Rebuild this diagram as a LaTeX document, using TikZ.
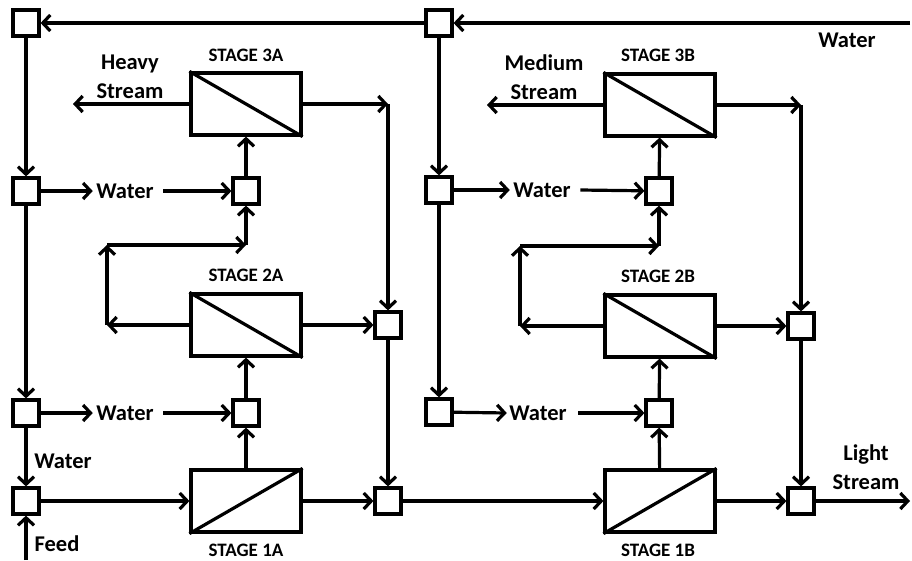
\documentclass[tikz,border=0pt]{standalone}
\usepackage{fontspec}
\setmainfont{Carlito}
\usetikzlibrary{arrows.meta}
\begin{document}
\begin{tikzpicture}[x=1pt,y=-1pt,line width=3.2pt,
  sq/.style={draw, minimum size=26pt, inner sep=0pt},
  stg/.style={draw, minimum width=110pt, minimum height=62pt, inner sep=0pt},
  arr/.style={-{Straight Barb[length=7.5pt,width=16pt]}},
  lbl/.style={font=\bfseries\fontsize{22.5}{29}\selectfont, inner sep=0pt, align=center},
  stl/.style={font=\bfseries\fontsize{19}{20}\selectfont, inner sep=0pt}]
\useasboundingbox (0,0) rectangle (912,560);
% ---- A side nodes
\node[sq] (tl) at (26,23) {};
\node[sq] (tm) at (439,23) {};
\node[sq] (a1) at (26,191) {};
\node[sq] (a2) at (26,413) {};
\node[sq] (fm) at (26,501) {};
\node[sq] (m3a) at (246,191) {};
\node[sq] (m2a) at (246,413) {};
\node[sq] (ca1) at (388,325) {};
\node[sq] (ca2) at (388,501) {};
\node[stg] (s3a) at (246,104) {};
\node[stg] (s2a) at (246,325) {};
\node[stg] (s1a) at (246,501) {};
\draw (s3a.north west) -- (s3a.south east);
\draw (s2a.north west) -- (s2a.south east);
\draw (s1a.south west) -- (s1a.north east);
% ---- B side nodes
\node[sq] (b1) at (439,190) {};
\node[sq] (b2) at (439,412) {};
\node[sq] (m3b) at (659,191) {};
\node[sq] (m2b) at (659,413) {};
\node[sq] (cb1) at (801,326) {};
\node[sq] (cb2) at (801,501) {};
\node[stg] (s3b) at (660,105) {};
\node[stg] (s2b) at (660,326) {};
\node[stg] (s1b) at (660,501) {};
\draw (s3b.north west) -- (s3b.south east);
\draw (s2b.north west) -- (s2b.south east);
\draw (s1b.south west) -- (s1b.north east);
% ---- labels
\node[stl] (l3a) at (246,55) {STAGE 3A};
\node[stl] (l2a) at (246,275) {STAGE 2A};
\node[stl, anchor=base] (l1a) at (246,556) {STAGE 1A};
\node[stl] (l3b) at (658,55) {STAGE 3B};
\node[stl] (l2b) at (658,276) {STAGE 2B};
\node[stl, anchor=base] (l1b) at (658,556) {STAGE 1B};
\node[lbl] (heavy) at (130,77) {Heavy\\Stream};
\node[lbl] (medium) at (544,77) {Medium\\Stream};
\node[lbl] (light) at (866,467) {Light\\Stream};
\node[lbl] (wtop) at (847,40) {Water};
\node[lbl] (wfeed) at (63,461) {Water};
\node[lbl] (feedl) at (57,544) {Feed};
\node[lbl] (wa1) at (125,191) {Water};
\node[lbl] (wa2) at (125,413) {Water};
\node[lbl] (wb1) at (542,190) {Water};
\node[lbl] (wb2) at (538,413) {Water};
% ---- free ends
\coordinate (win) at (910,23);
\coordinate (feed) at (26,560);
\coordinate (hs) at (73,104);
\coordinate (ms) at (487,105);
\coordinate (lout) at (910,501);
\coordinate (ta) at (388,104);
\coordinate (tb) at (801,105);
\coordinate (ra) at (107,325);
\coordinate (rb) at (107,245);
\coordinate (rc) at (246,245);
\coordinate (qa) at (520,326);
\coordinate (qb) at (520,246);
\coordinate (qc) at (659,246);
% ---- connectors
\draw[arr] (win) -- (tm);
\draw[arr] (tm) -- (tl);
\draw[arr] (tl) -- (a1);
\draw[arr] (a1) -- (a2);
\draw[arr] (a2) -- (fm);
\draw[arr] (feed) -- (fm);
\draw[arr] (a1) -- ([xshift=-2pt]wa1.west);
\draw[arr] ([xshift=8pt]wa1.east) -- (m3a);
\draw[arr] (a2) -- ([xshift=-2pt]wa2.west);
\draw[arr] ([xshift=8pt]wa2.east) -- (m2a);
\draw[arr] (fm) -- (s1a);
\draw[arr] (s1a) -- (m2a);
\draw[arr] (m2a) -- (s2a);
\draw[arr] (s2a) -- (ra);
\draw[arr] (ra) -- (rb);
\draw[arr] (rb) -- (rc);
\draw[arr] (rc) -- (m3a);
\draw[arr] (m3a) -- (s3a);
\draw[arr] (s3a) -- (hs);
\draw[arr] (s3a) -- (ta);
\draw[arr] (ta) -- (ca1);
\draw[arr] (s2a) -- (ca1);
\draw[arr] (ca1) -- (ca2);
\draw[arr] (s1a) -- (ca2);
\draw[arr] (ca2) -- (s1b);
% B
\draw[arr] (tm) -- (b1);
\draw[arr] (b1) -- (b2);
\draw[arr] (b1) -- ([xshift=-2pt]wb1.west);
\draw[arr] ([xshift=8pt]wb1.east) -- (m3b);
\draw[arr] (b2) -- ([xshift=-1pt]wb2.west);
\draw[arr] ([xshift=10pt]wb2.east) -- (m2b);
\draw[arr] (s1b) -- (m2b);
\draw[arr] (m2b) -- (s2b);
\draw[arr] (s2b) -- (qa);
\draw[arr] (qa) -- (qb);
\draw[arr] (qb) -- (qc);
\draw[arr] (qc) -- (m3b);
\draw[arr] (m3b) -- (s3b);
\draw[arr] (s3b) -- (ms);
\draw[arr] (s3b) -- (tb);
\draw[arr] (tb) -- (cb1);
\draw[arr] (s2b) -- (cb1);
\draw[arr] (cb1) -- (cb2);
\draw[arr] (s1b) -- (cb2);
\draw[arr] (cb2) -- (lout);
\end{tikzpicture}
\end{document}
